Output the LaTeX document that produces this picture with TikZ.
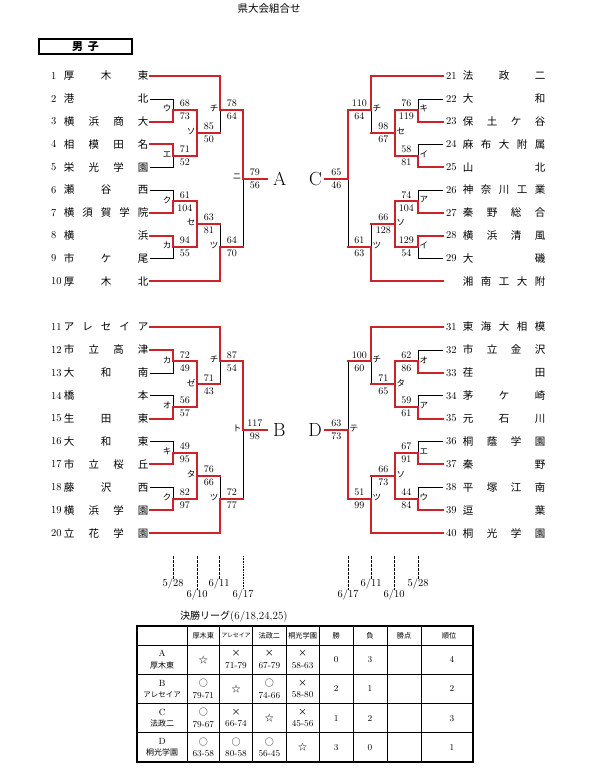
\documentclass[tikz,border=0pt]{standalone}
\usepackage{fontspec}
\newfontfamily\jp{Noto Sans CJK JP}
\usetikzlibrary{positioning}
\definecolor{winred}{HTML}{CC2229}
\newcommand{\ya}[1]{76+(#1-1)*22.8}
\newcommand{\yb}[1]{327+(#1-1)*22.9}
\newcommand{\mres}[2]{{\jp #1}\\#2}
\tikzset{
  win/.style={draw=winred, line width=1.9pt, line cap=rect},
  lose/.style={draw=black, line width=0.6pt},
  tnum/.style={anchor=west, inner sep=0pt, font=\fontsize{10.5}{12}\selectfont},
  tname/.style={anchor=west, inner sep=0pt, font=\jp\fontsize{10.5}{12}\selectfont},
  mlab/.style={inner sep=0pt, font=\jp\fontsize{8.5}{10}\selectfont, yshift=1.5pt},
  score/.style={inner sep=0pt, align=center, font=\fontsize{10}{13}\selectfont},
  big/.style={inner sep=0pt, font=\fontsize{19}{19}\selectfont},
  dateline/.style={draw=black, line width=0.5pt, dash pattern=on 2.5pt off 1.5pt},
  datedot/.style={draw=black, line width=0.4pt, dash pattern=on 0.8pt off 0.8pt},
  datelab/.style={inner sep=0pt, font=\fontsize{10.5}{12}\selectfont},
  thead/.style={inner sep=0pt, font=\jp\fontsize{7.2}{8}\selectfont},
  cell/.style={inner sep=0pt, align=center, font=\fontsize{9}{11.5}\selectfont}
}
\begin{document}
\begin{tikzpicture}[x=1pt,y=-1pt]
\useasboundingbox[fill=white] (0,0) rectangle (595,768);
\node[font=\jp\fontsize{10.5}{12}\selectfont] (title) at (269,9) {県大会組合せ};
\node[draw, line width=1.5pt, minimum width=93pt, minimum height=15pt, inner sep=0pt,
  font=\jp\bfseries\fontsize{11}{12}\selectfont] (sex) at (85.5,46.5) {男\hspace{5pt}子};

% teams
\foreach \n/\s [count=\k] in {1/厚\hfill 木\hfill 東, 2/港\hfill 北, 3/横\hfill 浜\hfill 商\hfill 大,
  4/相\hfill 模\hfill 田\hfill 名, 5/栄\hfill 光\hfill 学\hfill 園, 6/瀬\hfill 谷\hfill 西,
  7/横\hfill 須\hfill 賀\hfill 学\hfill 院, 8/横\hfill 浜, 9/市\hfill ケ\hfill 尾, 10/厚\hfill 木\hfill 北}{
  \node[tnum] (n\n) at (51,{\ya{\k}}) {\n};
  \node[tname] (t\n) at (63.75,{\ya{\k}}) {\hbox to 84.5pt{\s}};
  \coordinate (e\n) at (150,{\ya{\k}});
}
\foreach \n/\s [count=\k] in {11/ア\hfill レ\hfill セ\hfill イ\hfill ア, 12/市\hfill 立\hfill 高\hfill 津,
  13/大\hfill 和\hfill 南, 14/橋\hfill 本, 15/生\hfill 田\hfill 東, 16/大\hfill 和\hfill 東,
  17/市\hfill 立\hfill 桜\hfill 丘, 18/藤\hfill 沢\hfill 西, 19/横\hfill 浜\hfill 学\hfill 園,
  20/立\hfill 花\hfill 学\hfill 園}{
  \node[tnum] (n\n) at (51,{\yb{\k}}) {\n};
  \node[tname] (t\n) at (63.75,{\yb{\k}}) {\hbox to 84.5pt{\s}};
  \coordinate (e\n) at (150,{\yb{\k}});
}
\foreach \n/\s [count=\k] in {21/法\hfill 政\hfill 二, 22/大\hfill 和, 23/保\hfill 土\hfill ケ\hfill 谷,
  24/麻\hfill 布\hfill 大\hfill 附\hfill 属, 25/山\hfill 北, 26/神\hfill 奈\hfill 川\hfill 工\hfill 業,
  27/秦\hfill 野\hfill 総\hfill 合, 28/横\hfill 浜\hfill 清\hfill 風, 29/大\hfill 磯}{
  \node[tnum] (n\n) at (446,{\ya{\k}}) {\n};
  \node[tname] (t\n) at (462.75,{\ya{\k}}) {\hbox to 82.5pt{\s}};
  \coordinate (e\n) at (443,{\ya{\k}});
}
\node[tname] (t30) at (462.75,{\ya{10}}) {\hbox to 82.5pt{湘\hfill 南\hfill 工\hfill 大\hfill 附}};
\coordinate (e30) at (443,{\ya{10}});
\foreach \n/\s [count=\k] in {31/東\hfill 海\hfill 大\hfill 相\hfill 模, 32/市\hfill 立\hfill 金\hfill 沢,
  33/荏\hfill 田, 34/茅\hfill ケ\hfill 崎, 35/元\hfill 石\hfill 川, 36/桐\hfill 蔭\hfill 学\hfill 園,
  37/秦\hfill 野, 38/平\hfill 塚\hfill 江\hfill 南, 39/逗\hfill 葉, 40/桐\hfill 光\hfill 学\hfill 園}{
  \node[tnum] (n\n) at (446,{\yb{\k}}) {\n};
  \node[tname] (t\n) at (462.75,{\yb{\k}}) {\hbox to 82.5pt{\s}};
  \coordinate (e\n) at (443,{\yb{\k}});
}

% junctions
\coordinate (aU) at (173,{\ya{2.5}}); \coordinate (aE) at (173,{\ya{4.5}});
\coordinate (aKu) at (173,{\ya{6.5}}); \coordinate (aKa) at (173,{\ya{8.5}});
\coordinate (aSo) at (197,{\ya{3.5}}); \coordinate (aSe) at (197,{\ya{7.5}});
\coordinate (aChi) at (220,{\ya{2.5}}); \coordinate (aTsu) at (220,{\ya{8.5}});
\coordinate (aNi) at (243,{\ya{5.5}}); \coordinate (aEnd) at (267,{\ya{5.5}});
\coordinate (bKa) at (173,{\yb{2.5}}); \coordinate (bO) at (173,{\yb{4.5}});
\coordinate (bKi) at (173,{\yb{6.5}}); \coordinate (bKu) at (173,{\yb{8.5}});
\coordinate (bZe) at (197,{\yb{3.5}}); \coordinate (bTa) at (197,{\yb{7.5}});
\coordinate (bChi) at (220,{\yb{2.5}}); \coordinate (bTsu) at (220,{\yb{8.5}});
\coordinate (bTo) at (243,{\yb{5.5}}); \coordinate (bEnd) at (267,{\yb{5.5}});
\coordinate (cKi) at (418,{\ya{2.5}}); \coordinate (cI) at (418,{\ya{4.5}});
\coordinate (cA) at (418,{\ya{6.5}}); \coordinate (cI2) at (418,{\ya{8.5}});
\coordinate (cSe) at (395,{\ya{3.5}}); \coordinate (cSo) at (395,{\ya{7.5}});
\coordinate (cChi) at (371,{\ya{2.5}}); \coordinate (cTsu) at (371,{\ya{8.5}});
\coordinate (cFin) at (348,{\ya{5.5}}); \coordinate (cEnd) at (325,{\ya{5.5}});
\coordinate (dO) at (418,{\yb{2.5}}); \coordinate (dA) at (418,{\yb{4.5}});
\coordinate (dE) at (418,{\yb{6.5}}); \coordinate (dU) at (418,{\yb{8.5}});
\coordinate (dTa) at (395,{\yb{3.5}}); \coordinate (dSo) at (395,{\yb{7.5}});
\coordinate (dChi) at (371,{\yb{2.5}}); \coordinate (dTsu) at (371,{\yb{8.5}});
\coordinate (dTe) at (348,{\yb{5.5}}); \coordinate (dEnd) at (325,{\yb{5.5}});

% losers
\draw[lose] (e2) -| (aU); \draw[lose] (e5) -| (aE); \draw[lose] (e6) -| (aKu); \draw[lose] (e9) -| (aKa);
\draw[lose] (aSo) -| (aChi); \draw[lose] (aSe) -| (aTsu); \draw[lose] (aTsu) -| (aNi);
\draw[lose] (e13) -| (bKa); \draw[lose] (e14) -| (bO); \draw[lose] (e16) -| (bKi); \draw[lose] (e18) -| (bKu);
\draw[lose] (bZe) -| (bChi); \draw[lose] (bTa) -| (bTsu); \draw[lose] (bTsu) -| (bTo);
\draw[lose] (e22) -| (cKi); \draw[lose] (e24) -| (cI); \draw[lose] (e26) -| (cA); \draw[lose] (e29) -| (cI2);
\draw[lose] (cSe) -| (cChi); \draw[lose] (cSo) -| (cTsu); \draw[lose] (cTsu) -| (cFin);
\draw[lose] (e32) -| (dO); \draw[lose] (e34) -| (dA); \draw[lose] (e36) -| (dE); \draw[lose] (e38) -| (dU);
\draw[lose] (dTa) -| (dChi); \draw[lose] (dSo) -| (dTsu); \draw[lose] (dChi) -| (dTe);

% winners
\draw[win] (e3) -| (aU); \draw[win] (e4) -| (aE); \draw[win] (e7) -| (aKu); \draw[win] (e8) -| (aKa);
\draw[win] (aU) -| (aSo); \draw[win] (aE) -| (aSo); \draw[win] (aKu) -| (aSe); \draw[win] (aKa) -| (aSe);
\draw[win] (e1) -| (aChi); \draw[win] (aSo) -- (aSo -| aChi); \draw[win] (e10) -| (aTsu); \draw[win] (aSe) -- (aSe -| aTsu);
\draw[win] (aChi) -| (aNi); \draw[win] (aTsu) -- (aTsu -| aNi); \draw[win] (aNi) -- (aEnd);
\draw[win] (e12) -| (bKa); \draw[win] (e15) -| (bO); \draw[win] (e17) -| (bKi); \draw[win] (e19) -| (bKu);
\draw[win] (bKa) -| (bZe); \draw[win] (bO) -| (bZe); \draw[win] (bKi) -| (bTa); \draw[win] (bKu) -| (bTa);
\draw[win] (e11) -| (bChi); \draw[win] (bZe) -- (bZe -| bChi); \draw[win] (e20) -| (bTsu); \draw[win] (bTa) -- (bTa -| bTsu);
\draw[win] (bChi) -| (bTo); \draw[win] (bTsu) -- (bTsu -| bTo); \draw[win] (bTo) -- (bEnd);
\draw[win] (e23) -| (cKi); \draw[win] (e25) -| (cI); \draw[win] (e27) -| (cA); \draw[win] (e28) -| (cI2);
\draw[win] (cKi) -| (cSe); \draw[win] (cI) -| (cSe); \draw[win] (cA) -| (cSo); \draw[win] (cI2) -| (cSo);
\draw[win] (e21) -| (cChi); \draw[win] (cSe) -- (cSe -| cChi); \draw[win] (e30) -| (cTsu); \draw[win] (cSo) -- (cSo -| cTsu);
\draw[win] (cChi) -| (cFin); \draw[win] (cTsu) -- (cTsu -| cFin); \draw[win] (cFin) -- (cEnd);
\draw[win] (e33) -| (dO); \draw[win] (e35) -| (dA); \draw[win] (e37) -| (dE); \draw[win] (e39) -| (dU);
\draw[win] (dO) -| (dTa); \draw[win] (dA) -| (dTa); \draw[win] (dE) -| (dSo); \draw[win] (dU) -| (dSo);
\draw[win] (e31) -| (dChi); \draw[win] (dTa) -- (dTa -| dChi); \draw[win] (e40) -| (dTsu); \draw[win] (dSo) -- (dSo -| dTsu);
\draw[win] (dChi) -- (dChi -| dTe); \draw[win] (dTsu) -| (dTe); \draw[win] (dTe) -- (dEnd);

% match marks and scores
\foreach \j/\l/\sa/\sb in {aU/ウ/68/73, aE/エ/71/52, aKu/ク/61/104, aKa/カ/94/55, aSo/ソ/85/50,
  aSe/セ/63/81, aChi/チ/78/64, aTsu/ツ/64/70, aNi/ニ/79/56, bKa/カ/72/49, bO/オ/56/57,
  bKi/キ/49/95, bKu/ク/82/97, bZe/ゼ/71/43, bTa/タ/76/66, bChi/チ/87/54, bTsu/ツ/72/77, bTo/ト/117/98}{
  \node[mlab, left=1.5pt of \j] (l\j) {\l};
  \node[score, xshift=11.75pt] (s\j) at (\j) {\sa\\\sb};
}
\foreach \j/\l/\sa/\sb in {cKi/キ/76/119, cI/イ/58/81, cA/ア/74/104, cI2/イ/129/54, cSe/セ/98/67,
  cSo/ソ/66/128, cChi/チ/110/64, cTsu/ツ/61/63, dO/オ/62/86, dA/ア/59/61, dE/エ/67/91,
  dU/ウ/44/84, dTa/タ/71/65, dSo/ソ/66/73, dChi/チ/100/60, dTsu/ツ/51/99, dTe/テ/63/73}{
  \node[mlab, right=1.5pt of \j] (l\j) {\l};
  \node[score, xshift=-11.75pt] (s\j) at (\j) {\sa\\\sb};
}
\node[score, xshift=-11.75pt] (scFin) at (cFin) {65\\46};
\node[big, right=6pt of aEnd] (bigA) {A};
\node[big, right=6pt of bEnd] (bigB) {B};
\node[big, left=3pt of cEnd] (bigC) {C};
\node[big, left=3pt of dEnd] (bigD) {D};

% dates
\foreach \i/\x/\ly/\m/\dd/\st in {1/173/584/5/28/dateline, 2/197/595/6/10/dateline, 3/219/584/6/11/dateline,
  4/243/595/6/17/datedot, 5/348/595/6/17/dateline, 6/371/584/6/11/dateline, 7/394/595/6/10/dateline,
  8/418/584/5/28/dateline}{
  \node[datelab] (dl\i) at (\x,\ly) {\m/\dd};
  \coordinate (dt\i) at (\x,556);
  \draw[\st] (dt\i) -- (dl\i.north);
}

% final league
\node[anchor=west, inner sep=0pt, font=\fontsize{11}{12}\selectfont] (league) at (180,617)
  {{\jp\fontsize{10}{12}\selectfont 決勝リーグ}(6/18,24,25)};
\draw[line width=1.4pt] (137,626) rectangle (473,762);
\foreach \x in {187.3,219.3,252.7,286,319.3,353,387,421} \draw[line width=0.6pt] (\x,626) -- (\x,762);
\foreach \y in {645,674.25,703.5,732.75} \draw[line width=0.6pt] (137,\y) -- (473,\y);
\foreach \x/\h [count=\i] in {203.3/厚木東, 236/{\fontsize{5.8}{7}\selectfont アレセイア}, 269.35/法政二,
  302.65/桐光学園, 336.15/勝, 370/負, 404/勝点, 449/順位}
  \node[thead] (h\i) at (\x,635.5) {\h};
\node[cell] (rA) at (162.15,659.6) {A\\{\jp\fontsize{8}{11.5}\selectfont 厚木東}};
\node[cell] (rB) at (162.15,688.9) {B\\{\jp\fontsize{7.5}{11.5}\selectfont アレセイア}};
\node[cell] (rC) at (162.15,718.1) {C\\{\jp\fontsize{8}{11.5}\selectfont 法政二}};
\node[cell] (rD) at (162.15,747.4) {D\\{\jp\fontsize{8}{11.5}\selectfont 桐光学園}};
\node[cell] (cA1) at (203.3,659.6) {\jp ☆}; \node[cell] (cA2) at (236,659.6) {\mres{×}{71-79}};
\node[cell] (cA3) at (269.35,659.6) {\mres{×}{67-79}}; \node[cell] (cA4) at (302.65,659.6) {\mres{×}{58-63}};
\node[cell] (cA5) at (336.15,659.6) {0}; \node[cell] (cA6) at (370,659.6) {3}; \node[cell] (cA8) at (452,659.6) {4};
\node[cell] (cB1) at (203.3,688.9) {\mres{○}{79-71}}; \node[cell] (cB2) at (236,688.9) {\jp ☆};
\node[cell] (cB3) at (269.35,688.9) {\mres{○}{74-66}}; \node[cell] (cB4) at (302.65,688.9) {\mres{×}{58-80}};
\node[cell] (cB5) at (336.15,688.9) {2}; \node[cell] (cB6) at (370,688.9) {1}; \node[cell] (cB8) at (452,688.9) {2};
\node[cell] (cC1) at (203.3,718.1) {\mres{○}{79-67}}; \node[cell] (cC2) at (236,718.1) {\mres{×}{66-74}};
\node[cell] (cC3) at (269.35,718.1) {\jp ☆}; \node[cell] (cC4) at (302.65,718.1) {\mres{×}{45-56}};
\node[cell] (cC5) at (336.15,718.1) {1}; \node[cell] (cC6) at (370,718.1) {2}; \node[cell] (cC8) at (452,718.1) {3};
\node[cell] (cD1) at (203.3,747.4) {\mres{○}{63-58}}; \node[cell] (cD2) at (236,747.4) {\mres{○}{80-58}};
\node[cell] (cD3) at (269.35,747.4) {\mres{○}{56-45}}; \node[cell] (cD4) at (302.65,747.4) {\jp ☆};
\node[cell] (cD5) at (336.15,747.4) {3}; \node[cell] (cD6) at (370,747.4) {0}; \node[cell] (cD8) at (452,747.4) {1};
\end{tikzpicture}
\end{document}
